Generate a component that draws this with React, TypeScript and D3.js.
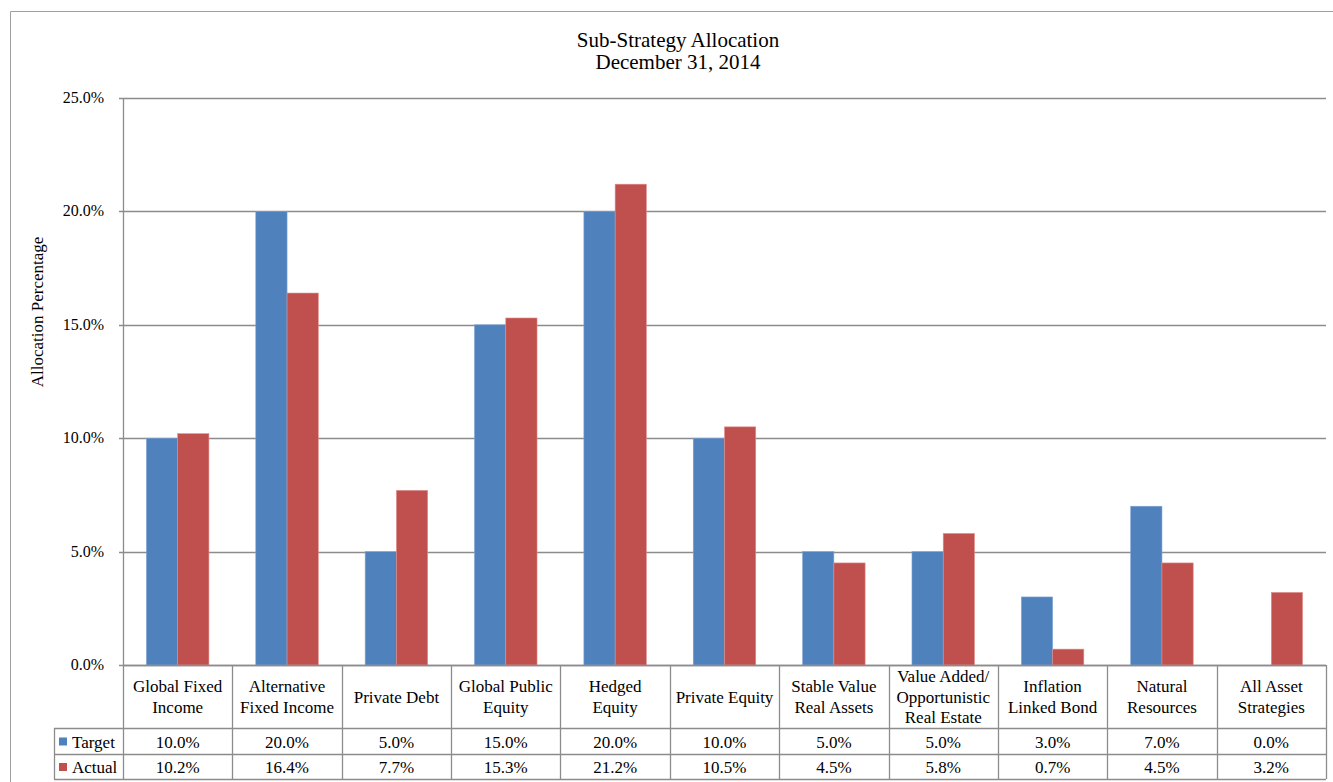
import React from "react";
import * as d3 from "d3";

const categories: string[][] = [
  ["Global Fixed", "Income"],
  ["Alternative", "Fixed Income"],
  ["Private Debt"],
  ["Global Public", "Equity"],
  ["Hedged", "Equity"],
  ["Private Equity"],
  ["Stable Value", "Real Assets"],
  ["Value Added/", "Opportunistic", "Real Estate"],
  ["Inflation", "Linked Bond"],
  ["Natural", "Resources"],
  ["All Asset", "Strategies"],
];
const targetValues = [10.0, 20.0, 5.0, 15.0, 20.0, 10.0, 5.0, 5.0, 3.0, 7.0, 0.0];
const actualValues = [10.2, 16.4, 7.7, 15.3, 21.2, 10.5, 4.5, 5.8, 0.7, 4.5, 3.2];
const yTicks = [0, 5, 10, 15, 20, 25];
const seriesNames = ["Target", "Actual"];
const seriesColors = ["#4F81BD", "#C0504D"];

const W = 1333;
const H = 782;
const left = 123;
const right = 1326;
const top = 98;
const bottom = 665;
const headerBottom = 728;
const row1Bottom = 754;
const row2Bottom = 779;
const legendLeft = 54;
const font = "'Liberation Serif', 'Times New Roman', serif";
const gridColor = "#8c8c8c";
const tableColor = "#8c8c8c";

export default function App() {
  const x = d3
    .scaleBand<number>()
    .domain(d3.range(categories.length))
    .range([left, right])
    .paddingInner(0)
    .paddingOuter(0);
  const bw = x.bandwidth();
  const barW = bw / 3.5;
  const inner = d3.scaleBand<number>().domain([0, 1]).range([0, barW * 2]);
  const y = d3.scaleLinear().domain([0, 25]).range([bottom, top]);
  const series = [targetValues, actualValues];
  const fmt = (v: number) => v.toFixed(1) + "%";

  return (
    <svg width={W} height={H} style={{ display: "block", position: "absolute", left: 0, top: 0 }}>
      <rect x={0} y={0} width={W} height={H} fill="#fff" />
      {/* outer frame */}
      <line x1={10.5} y1={11.5} x2={W} y2={11.5} stroke="#a0a0a0" strokeWidth={1} />
      <line x1={10.5} y1={11.5} x2={10.5} y2={H} stroke="#a0a0a0" strokeWidth={1} />

      {/* title */}
      <text x={678} y={47} textAnchor="middle" fontFamily={font} fontSize={21} fill="#000">
        Sub-Strategy Allocation
      </text>
      <text x={678} y={69} textAnchor="middle" fontFamily={font} fontSize={21} fill="#000">
        December 31, 2014
      </text>

      {/* gridlines */}
      {yTicks.map((t) => (
        <g key={t}>
          <line
            x1={left - 4}
            x2={right}
            y1={Math.round(y(t)) + 0.5}
            y2={Math.round(y(t)) + 0.5}
            stroke={gridColor}
            strokeWidth={1.3}
          />
          <text
            x={104}
            y={y(t) + 5}
            textAnchor="end"
            fontFamily={font}
            fontSize={16}
            fill="#000"
          >
            {fmt(t)}
          </text>
        </g>
      ))}

      {/* y axis title */}
      <text
        transform={`translate(43, ${312}) rotate(-90)`}
        textAnchor="middle"
        fontFamily={font}
        fontSize={17}
        fill="#000"
      >
        Allocation Percentage
      </text>

      {/* bars */}
      {categories.map((_, i) =>
        series.map((vals, s) => {
          const bx = (x(i) as number) + barW * 0.75 + (inner(s) as number);
          return (
            <rect
              key={`${i}-${s}`}
              x={bx}
              y={y(vals[i])}
              width={barW}
              height={bottom - y(vals[i])}
              fill={seriesColors[s]}
              stroke={s === 0 ? "#7fa3d3" : "#e08e8c"}
              strokeWidth={0.6}
            />
          );
        })
      )}

      {/* y axis line */}
      <line x1={left + 0.5} x2={left + 0.5} y1={top} y2={bottom} stroke={gridColor} strokeWidth={1.3} />

      {/* data table */}
      <g stroke={tableColor} strokeWidth={1.3} fill="none">
        <line x1={left} x2={right} y1={bottom + 0.5} y2={bottom + 0.5} />
        <line x1={legendLeft} x2={right} y1={headerBottom + 0.5} y2={headerBottom + 0.5} />
        <line x1={legendLeft} x2={right} y1={row1Bottom + 0.5} y2={row1Bottom + 0.5} />
        <line x1={legendLeft} x2={right} y1={row2Bottom + 0.5} y2={row2Bottom + 0.5} />
        <line x1={legendLeft + 0.5} x2={legendLeft + 0.5} y1={headerBottom} y2={row2Bottom} />
        {d3.range(categories.length + 1).map((i) => {
          const xx = i < categories.length ? (x(i) as number) : right;
          return (
            <line
              key={i}
              x1={Math.round(xx) + 0.5}
              x2={Math.round(xx) + 0.5}
              y1={bottom}
              y2={row2Bottom}
            />
          );
        })}
      </g>

      {/* category labels */}
      {categories.map((lines, i) => {
        const cx = (x(i) as number) + bw / 2;
        const lh = 20.5;
        const mid = (bottom + headerBottom) / 2;
        const startY = mid - ((lines.length - 1) * lh) / 2 + 6;
        return (
          <text key={i} textAnchor="middle" fontFamily={font} fontSize={17} fill="#000">
            {lines.map((l, k) => (
              <tspan key={k} x={cx} y={startY + k * lh}>
                {l}
              </tspan>
            ))}
          </text>
        );
      })}

      {/* legend + values rows */}
      {series.map((vals, s) => {
        const rowTop = s === 0 ? headerBottom : row1Bottom;
        const rowBot = s === 0 ? row1Bottom : row2Bottom;
        const rowMid = (rowTop + rowBot) / 2 + 0.5;
        return (
          <g key={s}>
            <rect x={59} y={rowMid - 4} width={8} height={8} fill={seriesColors[s]} />
            <text x={72} y={rowMid + 6} fontFamily={font} fontSize={17} fill="#000">
              {seriesNames[s]}
            </text>
            {vals.map((v, i) => (
              <text
                key={i}
                x={(x(i) as number) + bw / 2}
                y={rowMid + 6}
                textAnchor="middle"
                fontFamily={font}
                fontSize={17}
                fill="#000"
              >
                {fmt(v)}
              </text>
            ))}
          </g>
        );
      })}
    </svg>
  );
}
